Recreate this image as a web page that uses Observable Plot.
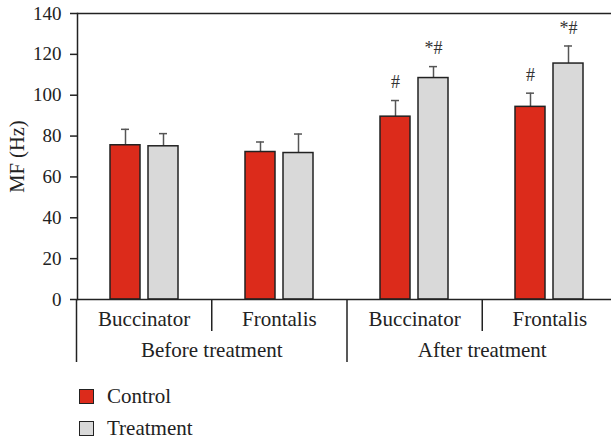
<!DOCTYPE html>
<html>
<head>
<meta charset="utf-8">
<script src="https://cdn.jsdelivr.net/npm/d3@7"></script>
<script src="https://cdn.jsdelivr.net/npm/@observablehq/plot@0.6"></script>
<style>
  html, body { margin: 0; padding: 0; overflow: hidden; background: white; }
  svg { display: block; max-width: none !important; }
  #legend { font-family: "Liberation Serif", "DejaVu Serif", serif; font-size: 21px; color: #222; padding-left: 79px; margin-top: 23px; }
  .row { display: flex; align-items: center; height: 16px; margin-bottom: 16px; }
  .sw { width: 13px; height: 13px; border: 1.5px solid #222; margin-right: 13px; }
</style>
</head>
<body>
<div id="chart"></div>
<div id="axis2"></div>
<div id="legend"></div>
<script>
const phases = ["Before treatment", "After treatment"];
const muscles = ["Buccinator", "Frontalis"];
const series = ["Control", "Treatment"];
const controlMean = [75.5, 72.2, 89.5, 94.3];
const controlErr = [7.8, 4.9, 7.9, 6.7];
const treatmentMean = [75.0, 71.7, 108.4, 115.5];
const treatmentErr = [6.2, 9.3, 5.6, 8.6];
const controlMarks = ["", "", "#", "#"];
const treatmentMarks = ["", "", "*#", "*#"];
const yTicks = [0, 20, 40, 60, 80, 100, 120, 140];
const yLabel = "MF (Hz)";
const colors = ["#dc2b1b", "#d9d9d9"];

const groups = phases.flatMap(p => muscles.map(m => `${p}|${m}`));
const rows = groups.flatMap((g, i) => [
  {group: g, series: series[0], mean: controlMean[i], err: controlErr[i], mark: controlMarks[i]},
  {group: g, series: series[1], mean: treatmentMean[i], err: treatmentErr[i], mark: treatmentMarks[i]}
]);

const W = 617;
const ink = "#222";
const font = "Liberation Serif, DejaVu Serif, serif";
const baseStyle = {fontFamily: font, fontSize: "20px", color: ink, background: "white", overflow: "visible", maxWidth: "none"};

const main = Plot.plot({
  width: W, height: 300,
  marginLeft: 76, marginRight: 0, marginTop: 13, marginBottom: 1,
  style: baseStyle,
  fx: {domain: groups, padding: 0, axis: null},
  x: {domain: series, paddingInner: 0.208, paddingOuter: 0.86, axis: null},
  y: {domain: [0, 140], axis: null},
  color: {domain: series, range: colors},
  marks: [
    Plot.ruleY([140], {stroke: ink, strokeWidth: 1.5}),
    Plot.frame({anchor: "left", facetAnchor: "left", stroke: ink, strokeWidth: 1.5}),
    Plot.axisY(yTicks, {tickSize: 7, tickFormat: () => "", label: null, stroke: ink, strokeWidth: 1.5}),
    Plot.text(yTicks, {y: d => d, frameAnchor: "left", facetAnchor: "left", dx: -16, textAnchor: "end", text: d => String(d), fontSize: 19, fontFamily: font, fill: ink}),
    Plot.text([yLabel], {frameAnchor: "left", facetAnchor: "left", dx: -60, rotate: -90, textAnchor: "middle", text: d => d, fontSize: 20.5, fontFamily: font, fill: ink}),
    Plot.ruleX(rows, {fx: "group", x: "series", y1: "mean", y2: d => d.mean + d.err, stroke: "#555", strokeWidth: 1.5}),
    Plot.tickY(rows, {fx: "group", x: "series", y: d => d.mean + d.err, insetLeft: 11, insetRight: 11, stroke: "#555", strokeWidth: 1.5}),
    Plot.barY(rows, {fx: "group", x: "series", y: "mean", fill: "series", stroke: ink, strokeWidth: 1.5}),
    Plot.ruleY([0], {stroke: ink, strokeWidth: 1.5}),
    Plot.text(rows.filter(d => d.mark), {fx: "group", x: "series", y: d => d.mean + d.err, dy: -18, text: "mark", fontSize: 18, fontFamily: font, fill: "#333"})
  ]
});
document.getElementById("chart").append(main);

const edges = groups.map((g, i) => ({at: i, depth: i % muscles.length === 0 ? 2 : 1}))
  .concat([{at: groups.length, depth: 2}]);
const muscleLabels = groups.map((g, i) => ({at: i + 0.5, row: 0.61, text: g.split("|")[1]}));
const phaseLabels = phases.map((p, j) => ({at: j * muscles.length + muscles.length / 2, row: 1.61, text: p}));

const lower = Plot.plot({
  width: W, height: 65,
  marginLeft: 76, marginRight: 0, marginTop: 0, marginBottom: 3,
  style: baseStyle,
  x: {domain: [0, groups.length], axis: null},
  y: {domain: [0, 2], range: [0, 62], axis: null},
  marks: [
    Plot.ruleX(edges, {x: "at", y1: 0, y2: "depth", stroke: ink, strokeWidth: 1.5}),
    Plot.text(muscleLabels, {x: "at", y: "row", text: "text", fill: ink, fontSize: 21, fontFamily: font}),
    Plot.text(phaseLabels, {x: "at", y: "row", text: "text", fill: ink, fontSize: 21, fontFamily: font})
  ]
});
document.getElementById("axis2").append(lower);

const legend = document.getElementById("legend");
series.forEach((s, i) => {
  const row = document.createElement("div");
  row.className = "row";
  const sw = document.createElement("div");
  sw.className = "sw";
  sw.style.background = colors[i];
  const label = document.createElement("span");
  label.textContent = s;
  row.append(sw, label);
  legend.append(row);
});
</script>
</body>
</html>
